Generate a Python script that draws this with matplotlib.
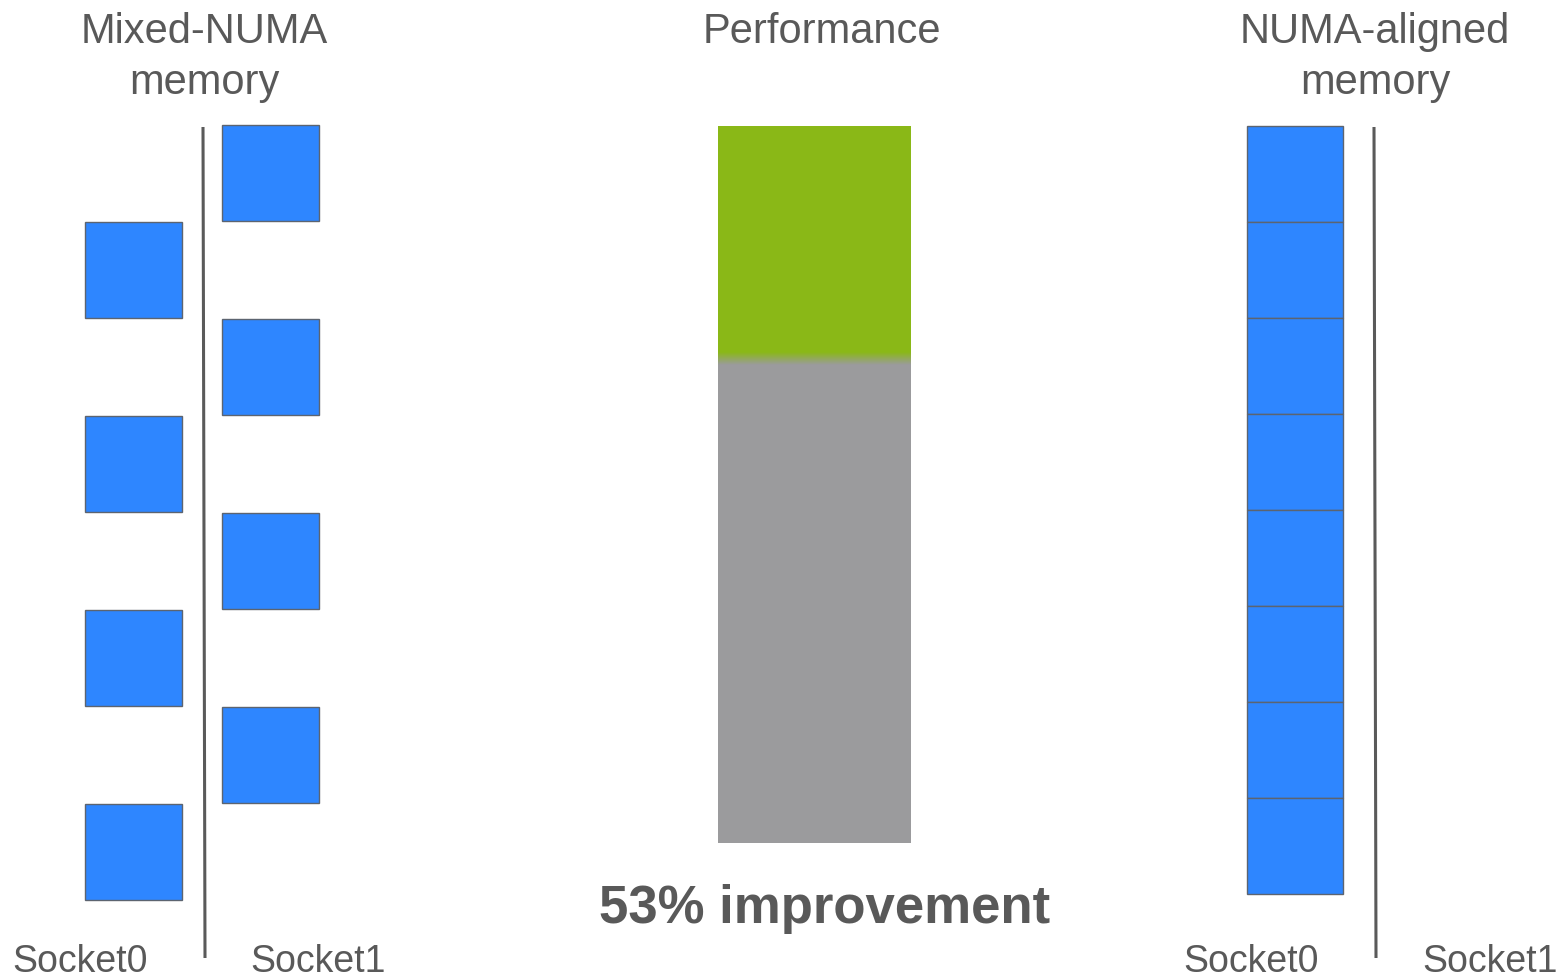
import matplotlib.pyplot as plt
import numpy as np
from matplotlib.colors import to_rgb


W, H = 1558, 977

panel_titles = ["Mixed-NUMA\nmemory", "Performance", "NUMA-aligned\nmemory"]
socket_labels = ["Socket0", "Socket1"]

# memory page slots (row index from the top) held by each socket
mixed_socket0_slots = [1, 3, 5, 7]
mixed_socket1_slots = [0, 2, 4, 6]
aligned_socket0_slots = [0, 1, 2, 3, 4, 5, 6, 7]

# relative performance, baseline = mixed-NUMA
perf_baseline = 1.0
perf_aligned = 1.485
improvement_label = "53% improvement"

BLUE = "#2e86ff"
EDGE = "#5c6470"
GRAY = "#9b9b9d"
GREEN = "#8ab817"
TEXT = "#595959"
LINE = "#5a5a5a"


def main():
    plt.rcParams["font.family"] = ["Liberation Sans", "DejaVu Sans"]

    fig = plt.figure(figsize=(W / 100, H / 100), dpi=100)
    ax = fig.add_axes([0, 0, 1, 1])
    ax.set_xlim(0, W)
    ax.set_ylim(H, 0)
    ax.axis("off")

    block = 96

    # left panel: pages alternate between sockets
    pitch = 97
    top = 125
    ax.bar(133.5, block, width=97, bottom=[top + pitch * s for s in mixed_socket0_slots],
           color=BLUE, edgecolor=EDGE, linewidth=1)
    ax.bar(270.5, block, width=97, bottom=[top + pitch * s for s in mixed_socket1_slots],
           color=BLUE, edgecolor=EDGE, linewidth=1)
    ax.plot([203, 205], [127, 958], color=LINE, lw=2.2, solid_capstyle="butt")

    # right panel: all pages on one socket
    ax.bar(1295, block, width=96, bottom=[126 + block * s for s in aligned_socket0_slots],
           color=BLUE, edgecolor=EDGE, linewidth=1)
    ax.plot([1374, 1376], [127, 958], color=LINE, lw=2.2, solid_capstyle="butt")

    # middle: performance bar
    base_y = 843
    px_per_unit = 483
    gain = perf_aligned - perf_baseline
    ax.bar(814.5, -perf_baseline * px_per_unit, width=193, bottom=base_y, color=GRAY, linewidth=0)
    ax.bar(814.5, -gain * px_per_unit, width=193, bottom=base_y - perf_baseline * px_per_unit,
           color=GREEN, linewidth=0)

    # soft blend between the two segments
    seam = base_y - perf_baseline * px_per_unit
    t = np.linspace(0, 1, 40)[:, None]
    grad = (1 - t) * np.array(to_rgb(GREEN)) + t * np.array(to_rgb(GRAY))
    ax.imshow(grad[:, None, :], extent=[718, 911, seam + 5, seam - 8],
              aspect="auto", interpolation="bilinear", zorder=3)
    ax.set_xlim(0, W)
    ax.set_ylim(H, 0)

    # titles
    for x, label in zip([204, 822, 1375], panel_titles):
        ax.text(x, 12, label, ha="center", va="top", fontsize=30,
                color=TEXT, linespacing=1.36)

    # socket labels
    for x, label in zip([80, 318, 1251, 1490], socket_labels * 2):
        ax.text(x, 962, label, ha="center", va="center", fontsize=27, color=TEXT)

    ax.text(825, 909, improvement_label, ha="center", va="center",
            fontsize=38, fontweight="bold", color=TEXT)

    fig.savefig("out.png", dpi=100)
    plt.close(fig)


if __name__ == "__main__":
    main()
